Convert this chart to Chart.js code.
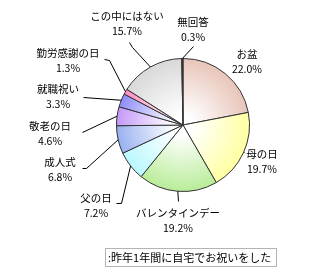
<!DOCTYPE html>
<html>
<head>
<meta charset="utf-8">
<script src="https://cdn.jsdelivr.net/npm/chart.js@4"></script>
<style>
  html, body { margin: 0; padding: 0; background: #fff; }
  #wrap { position: relative; width: 320px; height: 280px; }
  #note {
    position: absolute; left: 105px; top: 248px; width: 172px; height: 19px;
    border: 1px solid #b4b4b4; font: 11px "Noto Sans CJK JP", sans-serif;
    line-height: 17px; padding-left: 2px; box-sizing: border-box;
    white-space: nowrap; color: #000;
  }
</style>
</head>
<body>
<div id="wrap">
  <canvas id="myChart1" width="320" height="280"></canvas>
  <div id="note">:昨年1年間に自宅でお祝いをした</div>
</div>
<script>
const label = ['お盆', '母の日', 'バレンタインデー', '父の日', '成人式', '敬老の日', '就職祝い', '勤労感謝の日', 'この中にはない', '無回答'];
const percent = [22.0, 19.7, 19.2, 7.2, 6.8, 4.6, 3.3, 1.3, 15.7, 0.3];
const sliceColor = ['#e8c4b8', '#ffffa0', '#b8ec98', '#b8f8ff', '#98b0f0', '#c498f8', '#8c8cf8', '#ff88bc', '#d8d8d8', '#404040'];

// where each label text sits (center of the 2 lines) and the leader points near it
const labelPos = [[247, 61], [262, 161], [178, 220], [96, 205], [60, 169], [50, 133], [58, 96], [68, 60], [127, 23], [193, 29]];
const leader = [null, [[244, 152]], [[178, 201]], [[116, 203], [121, 203]], [[82, 168], [86, 168]], [[82, 132]], [[83, 97]], [[104, 59], [109, 60]], [[129, 42], [132, 47]], [[193, 46]]];

const font = '10.5px "Noto Sans CJK JP", sans-serif';

function radialFill(ctx) {
    const chart = ctx.chart;
    const color = sliceColor[ctx.dataIndex];
    const a = chart.chartArea;
    if (!a || ctx.dataIndex == 9) return color;
    const cx = (a.left + a.right) / 2;
    const cy = (a.top + a.bottom) / 2;
    const r = Math.min(a.right - a.left, a.bottom - a.top) / 2;
    const g = chart.ctx.createRadialGradient(cx, cy, 0, cx, cy, r);
    g.addColorStop(0, '#ffffff');
    g.addColorStop(0.15, '#ffffff');
    g.addColorStop(1, color);
    return g;
}

const pieLabels = {
    id: 'pieLabels',
    afterDatasetsDraw(chart) {
        const ctx = chart.ctx;
        const arcs = chart.getDatasetMeta(0).data;
        ctx.save();
        ctx.strokeStyle = '#000';
        ctx.lineWidth = 1;
        arcs.forEach(function (arc, i) {
            const mid = (arc.startAngle + arc.endAngle) / 2;
            const rx = arc.x + Math.cos(mid) * arc.outerRadius;
            const ry = arc.y + Math.sin(mid) * arc.outerRadius;
            if (leader[i]) {
                ctx.beginPath();
                const pts = leader[i];
                ctx.moveTo(pts[0][0] + 0.5, pts[0][1] + 0.5);
                for (let k = 1; k < pts.length; k++) ctx.lineTo(pts[k][0] + 0.5, pts[k][1] + 0.5);
                ctx.lineTo(rx, ry);
                ctx.stroke();
            }
            ctx.fillStyle = '#000';
            ctx.font = font;
            ctx.textAlign = 'center';
            ctx.textBaseline = 'middle';
            const p = labelPos[i];
            ctx.fillText(label[i], p[0], p[1] - 7);
            ctx.fillText(percent[i].toFixed(1) + '%', p[0], p[1] + 8);
        });
        ctx.restore();
    }
};

const config1 = {
    type: 'pie',
    data: {
        labels: label,
        datasets: [{
            data: percent,
            backgroundColor: radialFill,
            borderColor: '#333333',
            borderWidth: 1
        }]
    },
    options: {
        responsive: false,
        animation: false,
        layout: { padding: { left: 116, right: 70, top: 58, bottom: 88 } },
        plugins: {
            legend: { display: false },
            tooltip: { enabled: false }
        }
    },
    plugins: [pieLabels]
};
var myChart1 = new Chart(document.getElementById('myChart1'), config1);
</script>
</body>
</html>
